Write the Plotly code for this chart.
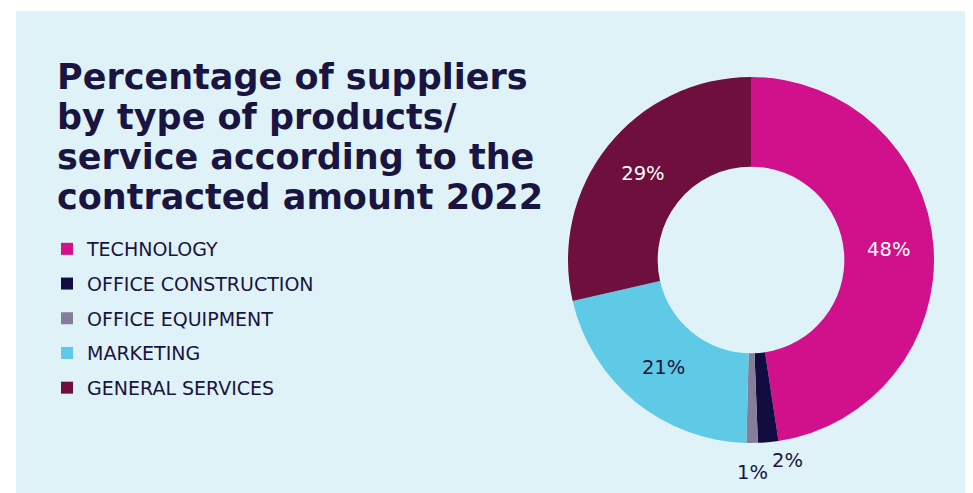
import math
import plotly.graph_objects as go

categories = ["TECHNOLOGY", "OFFICE CONSTRUCTION", "OFFICE EQUIPMENT", "MARKETING", "GENERAL SERVICES"]
values = [47.6, 1.8, 1.0, 21.0, 28.6]
colors = ["#d0118b", "#130c40", "#857d99", "#5ecae5", "#6e0f3e"]
inside_slices = [True, False, False, True, True]
text_colors = ["#ffffff", "#1a1440", "#1a1440", "#1a1440", "#ffffff"]
title_lines = ["Percentage of suppliers", "by type of products/",
               "service according to the", "contracted amount 2022"]

# the page body adds an 8px margin, so the figure is 8px smaller and shifted
OFF = 8
W, H = 973 - OFF, 493 - OFF
DARK = "#1a1440"
PANEL = "#dff2f8"
FONT = "DejaVu Sans"


def px(x):
    return (x - OFF) / W


def py(y):
    return 1 - (y - OFF) / H


CX, CY, R = 751, 260, 183

fig = go.Figure()

fig.add_trace(go.Pie(
    labels=categories,
    values=values,
    sort=False,
    direction="clockwise",
    rotation=0,
    hole=0.51,
    marker=dict(colors=colors, line=dict(width=0)),
    texttemplate=["%{percent:.0%}" if s else "" for s in inside_slices],
    textposition=["inside" if s else "none" for s in inside_slices],
    insidetextorientation="horizontal",
    textfont=dict(family=FONT, size=19.5, color=text_colors),
    domain=dict(x=[px(CX - R), px(CX + R)], y=[py(CY + R), py(CY - R)]),
    showlegend=False,
    hoverinfo="label+percent",
))

# outside labels for the thin slices, placed from the cumulative slice angles
total = sum(values)
cum = 0.0
label_radius = {1: 201, 2: 213}
label_anchor = {1: "left", 2: "center"}
for i, v in enumerate(values):
    mid = (cum + v / 2) / total * 2 * math.pi
    cum += v
    if inside_slices[i]:
        continue
    rr = label_radius[i]
    lx = CX + rr * math.sin(mid)
    ly = CY - rr * math.cos(mid)
    fig.add_annotation(
        text=f"{round(v / total * 100)}%",
        xref="paper", yref="paper", x=px(lx), y=py(ly),
        xanchor=label_anchor[i], yanchor="middle", showarrow=False,
        font=dict(family=FONT, size=19.5, color=text_colors[i]),
    )

for i, (cat, col) in enumerate(zip(categories, colors)):
    fig.add_trace(go.Scatter(
        x=[None], y=[None], mode="markers", name=cat,
        marker=dict(symbol="square", size=12, color=col, line=dict(width=0)),
        legendgroup=f"g{i}", showlegend=True,
    ))

# title: one annotation per line so the tight line spacing can be matched
TITLE_SIZE = 35
for k, line in enumerate(title_lines):
    baseline = 90 + 40 * k
    fig.add_annotation(
        text=line,
        xref="paper", yref="paper", x=px(55), y=py(baseline - 0.36 * TITLE_SIZE),
        xanchor="left", yanchor="middle", align="left", showarrow=False,
        font=dict(family=FONT, size=TITLE_SIZE, color=DARK, weight="bold"),
    )

fig.add_shape(type="rect", xref="paper", yref="paper",
              x0=px(16), x1=px(966), y0=0, y1=py(11),
              fillcolor=PANEL, line=dict(width=0), layer="below")

fig.update_layout(
    width=W, height=H,
    margin=dict(l=0, r=0, t=0, b=0),
    paper_bgcolor="white",
    plot_bgcolor="rgba(0,0,0,0)",
    xaxis=dict(visible=False),
    yaxis=dict(visible=False),
    showlegend=True,
    legend=dict(
        x=px(47), y=py(230), xanchor="left", yanchor="top",
        bgcolor="rgba(0,0,0,0)",
        font=dict(family=FONT, size=19, color=DARK),
        tracegroupgap=7, traceorder="grouped",
        itemwidth=30,
    ),
)

fig.write_html("out.html")
